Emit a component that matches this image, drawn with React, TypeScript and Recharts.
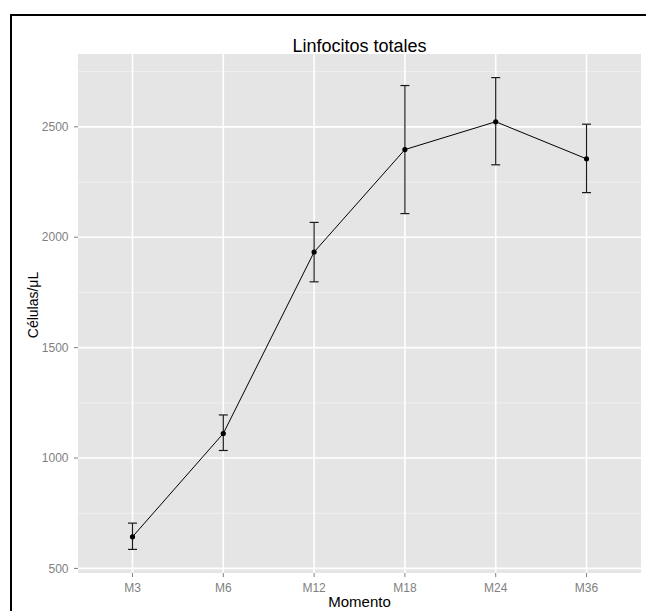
import React from 'react';
import { LineChart, Line, XAxis, YAxis, CartesianGrid, ErrorBar } from 'recharts';

// Linfocitos totales: mean +/- error per time point
const categories = ['M3', 'M6', 'M12', 'M18', 'M24', 'M36'];
const means = [643, 1111, 1933, 2397, 2523, 2355];
const lower = [586, 1034, 1798, 2107, 2328, 2202];
const upper = [705, 1195, 2067, 2687, 2723, 2512];
const yTicks = [500, 1000, 1500, 2000, 2500];
const yMinorTicks = [750, 1250, 1750, 2250, 2750];

const FONT = '"Liberation Sans", Arial, Helvetica, sans-serif';

const data = categories.map((name, i) => ({
  pos: i + 1,
  name,
  mean: means[i],
  err: [means[i] - lower[i], upper[i] - means[i]],
}));

// ggplot-style 5% expansion of the continuous scale
const lo = Math.min(...lower);
const hi = Math.max(...upper);
const pad = (hi - lo) * 0.05;
const yDomain = [lo - pad, hi + pad];

export default function App() {
  return (
    <div
      style={{
        position: 'absolute',
        left: 0,
        top: 0,
        width: 646,
        height: 611,
        overflow: 'hidden',
        background: '#fff',
        fontFamily: FONT,
      }}
    >
      {/* outer frame (left + top edges only visible) */}
      <div
        style={{
          position: 'absolute',
          left: 10,
          top: 14,
          width: 700,
          height: 700,
          borderLeft: '2px solid #000',
          borderTop: '2px solid #000',
        }}
      />

      <div style={{ position: 'absolute', left: 0, top: 0 }}>
        <LineChart
          width={646}
          height={611}
          data={data}
          margin={{ top: 54, right: 5, bottom: 0, left: 18 }}
        >
          <CartesianGrid
            fill="#E5E5E5"
            fillOpacity={1}
            stroke="#F2F2F2"
            strokeWidth={0.9}
            vertical={false}
            horizontalValues={yMinorTicks}
          />
          <CartesianGrid
            stroke="#FFFFFF"
            strokeWidth={1.6}
            horizontalValues={yTicks}
            verticalValues={[1, 2, 3, 4, 5, 6]}
          />
          <XAxis
            type="number"
            dataKey="pos"
            domain={[0.4, 6.6]}
            ticks={[1, 2, 3, 4, 5, 6]}
            tickFormatter={(v: number) => categories[v - 1]}
            height={38}
            axisLine={false}
            tickSize={4}
            tickMargin={6}
            tickLine={{ stroke: '#7F7F7F' }}
            tick={{ fontSize: 12, fill: '#7F7F7F', fontFamily: FONT }}
            interval={0}
            allowDataOverflow
          />
          <YAxis
            type="number"
            domain={yDomain}
            ticks={yTicks}
            width={60}
            axisLine={false}
            tickSize={4}
            tickMargin={5.5}
            tickLine={{ stroke: '#7F7F7F' }}
            tick={{ fontSize: 12, fill: '#7F7F7F', fontFamily: FONT }}
            interval={0}
            allowDataOverflow
          />
          <Line
            type="linear"
            dataKey="mean"
            stroke="#000"
            strokeWidth={1}
            dot={{ r: 2.6, fill: '#000', stroke: '#000', strokeWidth: 0 }}
            activeDot={false}
            isAnimationActive={false}
          >
            <ErrorBar dataKey="err" direction="y" width={4.5} stroke="#1a1a1a" strokeWidth={1.2} />
          </Line>
        </LineChart>
      </div>

      {/* titles */}
      <svg
        width={646}
        height={611}
        style={{ position: 'absolute', left: 0, top: 0, pointerEvents: 'none' }}
      >
        <text x={359.5} y={51.5} textAnchor="middle" fontSize={18} fill="#000" fontFamily={FONT}>
          Linfocitos totales
        </text>
        <text x={359.5} y={607} textAnchor="middle" fontSize={15} fill="#000" fontFamily={FONT}>
          Momento
        </text>
        <text
          x={38}
          y={305}
          textAnchor="middle"
          fontSize={14}
          fill="#000"
          fontFamily={FONT}
          transform="rotate(-90, 38, 305)"
        >
          Células/μL
        </text>
      </svg>
    </div>
  );
}
